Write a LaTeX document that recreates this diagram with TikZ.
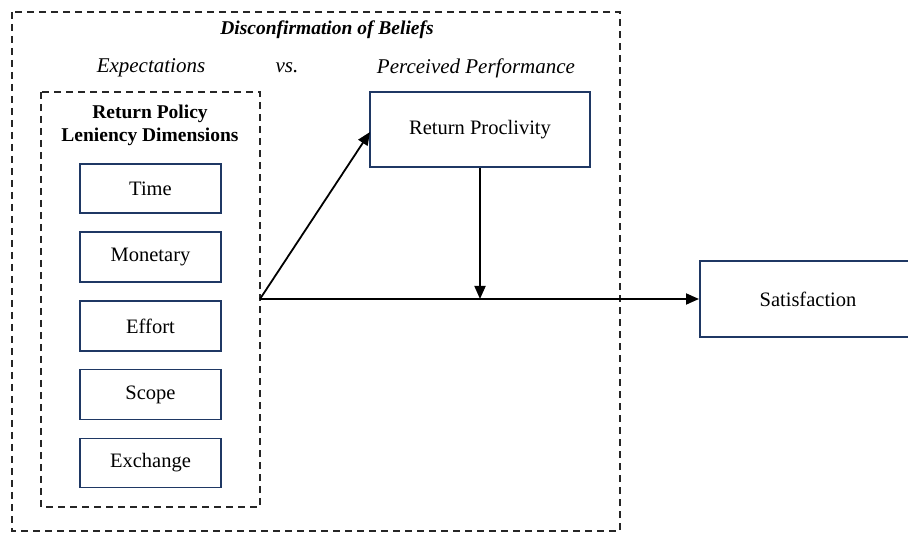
\documentclass[tikz,border=0pt]{standalone}
\usepackage{fontspec}
\setmainfont{Liberation Serif}
\usetikzlibrary{arrows.meta}
\definecolor{boxblue}{HTML}{1F3864}
\begin{document}
\begin{tikzpicture}[x=1pt,y=-1pt,
  dbox/.style={draw=black!85,line width=1.8pt,dash pattern=on 7pt off 5pt},
  sbox/.style={draw=boxblue,line width=1.6pt,fill=white,inner sep=0pt,font=\fontsize{20.5}{22}\selectfont},
  lbl/.style={inner sep=0pt,font=\fontsize{20.5}{22}\selectfont},
  arr/.style={line width=1.8pt,-{Triangle[length=13pt,width=11pt]}}]
\useasboundingbox (0,0) rectangle (908,534);
\clip (0,0) rectangle (908,534);
% outer dashed box
\draw[dbox] (12,12) rectangle (620,531);
\node[lbl,font=\fontsize{19.5}{22}\selectfont\bfseries\itshape] (title) at (327,30) {Disconfirmation of Beliefs};
\node[lbl,font=\fontsize{21}{22}\selectfont\itshape] (expect) at (151,68) {Expectations};
\node[lbl,font=\fontsize{21}{22}\selectfont\itshape] (vs) at (287,68) {vs.};
\node[lbl,font=\fontsize{21}{22}\selectfont\itshape] (perf) at (476,68) {Perceived Performance};
% inner dashed box
\draw[dbox] (41,92) rectangle (260,507);
\node[lbl,font=\fontsize{19.5}{22}\selectfont\bfseries,align=center] (rp) at (150,125) {Return Policy\\[1pt]Leniency Dimensions};
% dimension boxes
\node[sbox,minimum width=141pt,minimum height=49pt] (time) at (150.5,188.5) {Time};
\node[sbox,minimum width=141pt,minimum height=50pt] (mon) at (150.5,257) {Monetary};
\node[sbox,minimum width=141pt,minimum height=50pt] (eff) at (150.5,326) {Effort};
\node[sbox,minimum width=141pt,minimum height=50pt] (scope) at (150.5,394.5) {Scope};
\node[sbox,minimum width=141pt,minimum height=49pt] (exch) at (150.5,463) {Exchange};
% right boxes
\node[sbox,minimum width=220pt,minimum height=75pt] (proc) at (480,129.5) {Return Proclivity};
\node[sbox,minimum width=220pt,minimum height=76pt,anchor=west] (sat) at (699,299) {};
\node[lbl] (sattext) at (808,299) {Satisfaction};
% connectors
\coordinate (src) at (260,299);
\coordinate (mid) at (480,299);
\draw[arr] (src) -- (370,132);
\draw[line width=1.8pt] (src) -- (mid);
\draw[arr] (mid) -- (sat.west);
\draw[arr] (proc.south) -- (mid);
\end{tikzpicture}
\end{document}
